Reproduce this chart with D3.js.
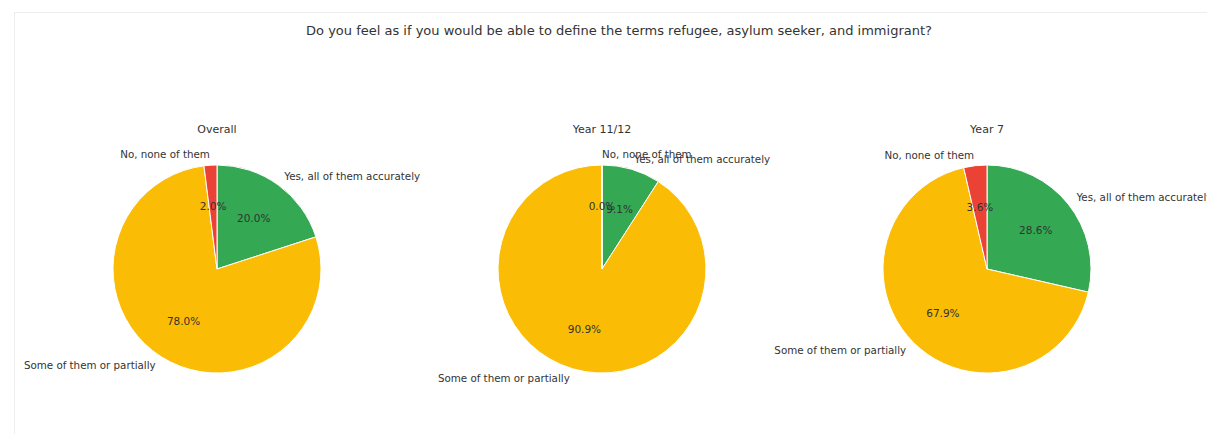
<!DOCTYPE html>
<html>
<head>
<meta charset="utf-8">
<script src="https://cdn.jsdelivr.net/npm/d3@7"></script>
<style>
  html, body { margin: 0; padding: 0; background: #ffffff; }
  svg { display: block; font-family: "DejaVu Sans", sans-serif; }
</style>
</head>
<body>
<svg id="chart" width="1207" height="434"></svg>
<script>
// Survey question and answer categories
const chartTitle = "Do you feel as if you would be able to define the terms refugee, asylum seeker, and immigrant?";
const groups = ["Overall", "Year 11/12", "Year 7"];
const answers = ["Yes, all of them accurately", "Some of them or partially", "No, none of them"];
const answerColors = ["#34a853", "#fbbc05", "#ea4335"];

// Share of respondents (%) per answer, in the order of `answers`
const overallPct = [20.0, 78.0, 2.0];
const year1112Pct = [9.1, 90.9, 0.0];
const year7Pct = [28.6, 67.9, 3.6];
const groupValues = [overallPct, year1112Pct, year7Pct];

const width = 1207, height = 434;
const svg = d3.select("#chart");

// light frame around the figure area
svg.append("rect")
  .attr("x", 14.5).attr("y", 12.5)
  .attr("width", width).attr("height", height)
  .attr("fill", "#ffffff")
  .attr("stroke", "#ededed")
  .attr("stroke-width", 1);

svg.append("text")
  .attr("x", 619).attr("y", 30)
  .attr("dy", "0.35em")
  .attr("text-anchor", "middle")
  .attr("font-size", 13)
  .attr("fill", "#333")
  .text(chartTitle);

const x = d3.scaleBand().domain(groups).range([24.5, 1179.5]);
const cy = 269;
const radius = 104;

const color = d3.scaleOrdinal().domain(answers).range(answerColors);

const pie = d3.pie()
  .sort(null)
  .value(d => d.value)
  .startAngle(0)
  .endAngle(2 * Math.PI);

const arc = d3.arc().innerRadius(0).outerRadius(radius);
const pctArc = d3.arc().innerRadius(radius * 0.6).outerRadius(radius * 0.6);
const labelArc = d3.arc().innerRadius(radius * 1.1).outerRadius(radius * 1.1);

groups.forEach((g, gi) => {
  const cx = x(g) + x.bandwidth() / 2;
  const data = answers.map((a, i) => ({ answer: a, value: groupValues[gi][i] }));
  const arcs = pie(data);

  const gEl = svg.append("g").attr("transform", `translate(${cx},${cy})`);

  gEl.append("text")
    .attr("x", 0).attr("y", 129 - cy)
    .attr("dy", "0.35em")
    .attr("text-anchor", "middle")
    .attr("font-size", 11)
    .attr("fill", "#333")
    .text(g);

  gEl.selectAll("path.slice")
    .data(arcs)
    .join("path")
    .attr("class", "slice")
    .attr("d", arc)
    .attr("fill", d => color(d.data.answer))
    .attr("stroke", "#ffffff")
    .attr("stroke-width", 1);

  gEl.selectAll("text.cat")
    .data(arcs)
    .join("text")
    .attr("class", "cat")
    .attr("transform", d => {
      const [lx, ly] = labelArc.centroid(d);
      return `translate(${lx},${ly})`;
    })
    .attr("dy", "0.35em")
    .attr("text-anchor", d => labelArc.centroid(d)[0] >= 0 ? "start" : "end")
    .attr("font-size", 10.3)
    .attr("fill", "#333")
    .text(d => d.data.answer);

  gEl.selectAll("text.pct")
    .data(arcs)
    .join("text")
    .attr("class", "pct")
    .attr("transform", d => {
      const [px, py] = pctArc.centroid(d);
      return `translate(${px},${py})`;
    })
    .attr("dy", "0.35em")
    .attr("text-anchor", "middle")
    .attr("font-size", 10.5)
    .attr("fill", "#333")
    .text(d => d.data.value.toFixed(1) + "%");
});
</script>
</body>
</html>
